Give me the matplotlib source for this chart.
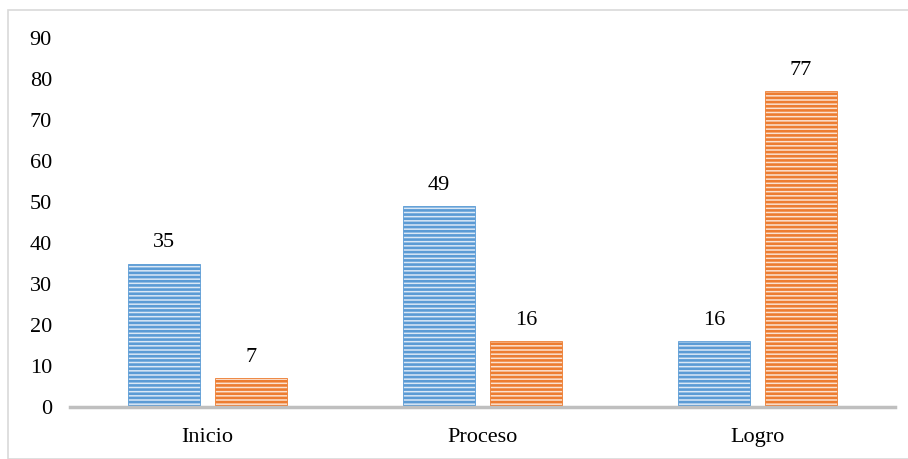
import matplotlib.pyplot as plt
from matplotlib.patches import Rectangle
import numpy as np

categories = ["Inicio", "Proceso", "Logro"]
serie_1 = [35, 49, 16]
serie_2 = [7, 16, 77]
yticks = [0, 10, 20, 30, 40, 50, 60, 70, 80, 90]

plt.rcParams['font.family'] = ['Liberation Serif', 'DejaVu Serif']
plt.rcParams['hatch.linewidth'] = 1.9

fig = plt.figure(figsize=(9.08, 4.59), dpi=100)
ax = fig.add_axes([0.0771, 0.1133, 0.9086, 0.8037])

x = np.arange(len(categories))
w = 0.262
off = w / 2 + 0.0275

b1 = ax.bar(x - off, serie_1, w, color='#dbe8f6', edgecolor='#5b9bd5',
            hatch='----', linewidth=0.6)
b2 = ax.bar(x + off, serie_2, w, color='#fbe2d1', edgecolor='#ed7d31',
            hatch='----', linewidth=0.6)

for bars, vals in ((b1, serie_1), (b2, serie_2)):
    for r, v in zip(bars, vals):
        ax.annotate(str(v), (r.get_x() + r.get_width() / 2, v),
                    xytext=(0, 8), textcoords='offset points',
                    ha='center', va='bottom', fontsize=16)

ax.set_xlim(-0.5, 2.5)
ax.set_ylim(0, 90)
ax.set_yticks(yticks)
ax.set_xticks(x)
ax.set_xticklabels(categories)
ax.tick_params(axis='both', length=0, labelsize=16)
ax.tick_params(axis='y', pad=13)
ax.tick_params(axis='x', pad=15)
for s in ax.spines.values():
    s.set_visible(False)
ax.axhline(0, color='#bfbfbf', lw=2.5, zorder=3, clip_on=False)

# light frame around the whole figure
fig.patches.append(Rectangle((8 / 908, 0), 1, 1 - 10 / 459, transform=fig.transFigure,
                             fill=False, edgecolor='#d9d9d9', lw=1.2))

fig.savefig('out.png', dpi=100)
